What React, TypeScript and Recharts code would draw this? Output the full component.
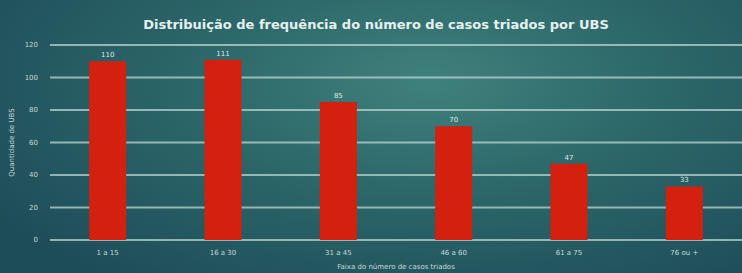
import { BarChart, Bar, XAxis, YAxis, CartesianGrid, LabelList, Label } from 'recharts';

const faixas = ['1 a 15', '16 a 30', '31 a 45', '46 a 60', '61 a 75', '76 ou +'];
const quantidade = [110, 111, 85, 70, 47, 33];
const yTicks = [0, 20, 40, 60, 80, 100, 120];

const data = faixas.map((faixa, i) => ({ faixa, ubs: quantidade[i] }));

const textColor = '#c4dad8';
const font = '"DejaVu Sans", sans-serif';

export default function App() {
  return (
    <div
      style={{
        position: 'absolute',
        top: 0,
        left: 0,
        width: 742,
        height: 273,
        background:
          'radial-gradient(ellipse 70% 90% at 58% 30%, #3f817c 0%, #2c6769 45%, #1e4d5a 100%)',
        fontFamily: font,
      }}
    >
      <div
        style={{
          position: 'absolute',
          top: 17,
          left: 0,
          width: 752,
          textAlign: 'center',
          color: '#e6f0ee',
          fontWeight: 'bold',
          fontSize: 13,
        }}
      >
        Distribuição de frequência do número de casos triados por UBS
      </div>
      <BarChart
        width={742}
        height={273}
        data={data}
        margin={{ top: 45, right: 0, left: 8, bottom: 3 }}
        barCategoryGap="34%"
      >
        <CartesianGrid vertical={false} stroke="#b9d4d1" strokeOpacity={0.75} strokeWidth={2} />
        <XAxis
          dataKey="faixa"
          height={30}
          axisLine={false}
          tickLine={false}
          tick={{ fill: textColor, fontSize: 7, fontFamily: font }}
          tickMargin={4}
        >
          <Label
            value="Faixa do número de casos triados"
            position="insideBottom"
            offset={1}
            style={{ fill: textColor, fontSize: 7, fontFamily: font }}
          />
        </XAxis>
        <YAxis
          width={42}
          domain={[0, 120]}
          ticks={yTicks}
          axisLine={false}
          tickLine={false}
          tick={{ fill: textColor, fontSize: 7, fontFamily: font }}
          tickMargin={6}
        >
          <Label
            value="Quantidade de UBS"
            angle={-90}
            position="insideLeft"
            offset={4}
            style={{ fill: textColor, fontSize: 7, fontFamily: font, textAnchor: 'middle' }}
          />
        </YAxis>
        <Bar dataKey="ubs" fill="#d4200f" isAnimationActive={false}>
          <LabelList
            dataKey="ubs"
            position="top"
            offset={4}
            style={{ fill: '#dde9e7', fontSize: 7, fontFamily: font }}
          />
        </Bar>
      </BarChart>
    </div>
  );
}
